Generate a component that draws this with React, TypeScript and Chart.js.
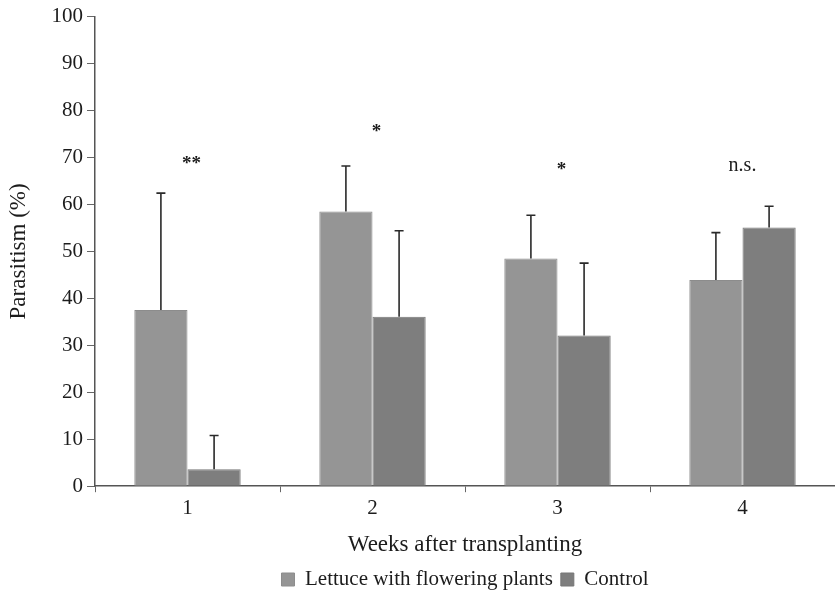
import React, { useEffect, useRef } from "react";
import { Chart, registerables } from "chart.js";

Chart.register(...registerables);

const weeks = ["1", "2", "3", "4"];
const lettuce = [37.5, 58.5, 48.5, 43.9];
const lettuceSD = [24.9, 9.7, 9.2, 10.1];
const control = [3.6, 36.1, 32.1, 55.1];
const controlSD = [7.2, 18.3, 15.4, 4.5];
const signifLabels = ["**", "*", "*", "n.s."];
const signifY = [67.6, 74.4, 66.3, 67.2];
const yTicks = [0, 10, 20, 30, 40, 50, 60, 70, 80, 90, 100];

const FONT = "'Liberation Serif', 'Times New Roman', serif";
const TEXT = "#1c1c1c";

const errorBarPlugin = {
  id: "errorBars",
  afterDatasetsDraw(chart: any) {
    const ctx = chart.ctx;
    const y = chart.scales.y;
    const sds = [lettuceSD, controlSD];
    ctx.save();
    ctx.strokeStyle = "#2a2a2a";
    ctx.lineWidth = 1.6;
    chart.data.datasets.forEach((ds: any, di: number) => {
      const meta = chart.getDatasetMeta(di);
      meta.data.forEach((bar: any, i: number) => {
        const top = y.getPixelForValue(ds.data[i]);
        const end = y.getPixelForValue(ds.data[i] + sds[di][i]);
        ctx.beginPath();
        ctx.moveTo(bar.x, top);
        ctx.lineTo(bar.x, end);
        ctx.moveTo(bar.x - 4.5, end);
        ctx.lineTo(bar.x + 4.5, end);
        ctx.stroke();
      });
    });
    ctx.restore();
  },
};

const signifPlugin = {
  id: "signif",
  afterDatasetsDraw(chart: any) {
    const ctx = chart.ctx;
    const x = chart.scales.x;
    const y = chart.scales.y;
    ctx.save();
    ctx.fillStyle = TEXT;
    ctx.textAlign = "center";
    ctx.textBaseline = "alphabetic";
    signifLabels.forEach((lab, i) => {
      const isStar = lab.indexOf("*") >= 0;
      ctx.font = (isStar ? "bold 19px " : "20px ") + FONT;
      ctx.fillText(lab, x.getPixelForValue(i) + (isStar ? 4 : 0), y.getPixelForValue(signifY[i]));
    });
    ctx.restore();
  },
};

export default function App() {
  const ref = useRef<HTMLCanvasElement | null>(null);
  useEffect(() => {
    if (!ref.current) return;
    const chart = new Chart(ref.current, {
      type: "bar",
      data: {
        labels: weeks,
        datasets: [
          {
            label: "Lettuce with flowering plants",
            data: lettuce,
            backgroundColor: "#959595",
            borderColor: "#8c8c8c",
            borderWidth: 1,
            barPercentage: 1,
            categoryPercentage: 0.575,
          },
          {
            label: "Control",
            data: control,
            backgroundColor: "#7e7e7e",
            borderColor: "#777777",
            borderWidth: 1,
            barPercentage: 1,
            categoryPercentage: 0.575,
          },
        ],
      },
      options: {
        animation: false,
        responsive: true,
        maintainAspectRatio: false,
        layout: { padding: { top: 4, left: 0, right: 0, bottom: -8 } },
        plugins: {
          tooltip: { enabled: false },
          legend: {
            position: "bottom",
            fullSize: false,
            labels: {
              boxWidth: 13,
              boxHeight: 13,
              padding: 8,
              color: TEXT,
              font: { family: FONT, size: 21 },
            },
          },
        },
        scales: {
          x: {
            grid: {
              drawOnChartArea: false,
              drawTicks: true,
              tickLength: 6,
              color: "#666",
              offset: true,
            },
            border: { color: "#555", width: 1.5 },
            ticks: { color: TEXT, font: { family: FONT, size: 21 }, padding: 4 },
            title: {
              display: true,
              text: "Weeks after transplanting",
              color: TEXT,
              font: { family: FONT, size: 23 },
              padding: { top: 6, bottom: 2 },
            },
          },
          y: {
            min: 0,
            max: 100,
            afterBuildTicks(scale: any) {
              scale.ticks = yTicks.map((v) => ({ value: v }));
            },
            afterFit(scale: any) {
              scale.width = 95;
            },
            grid: { drawOnChartArea: false, drawTicks: true, tickLength: 8, color: "#666" },
            border: { color: "#555", width: 1.5 },
            ticks: { color: TEXT, font: { family: FONT, size: 21 }, padding: 4 },
            title: {
              display: true,
              text: "Parasitism (%)",
              color: TEXT,
              font: { family: FONT, size: 23 },
              padding: { top: 5, bottom: 0 },
            },
          },
        },
      },
      plugins: [errorBarPlugin, signifPlugin],
    });
    return () => chart.destroy();
  }, []);
  return (
    <div style={{ position: "fixed", left: 0, top: 0, width: 835, height: 592, background: "#fff" }}>
      <canvas ref={ref} />
    </div>
  );
}
